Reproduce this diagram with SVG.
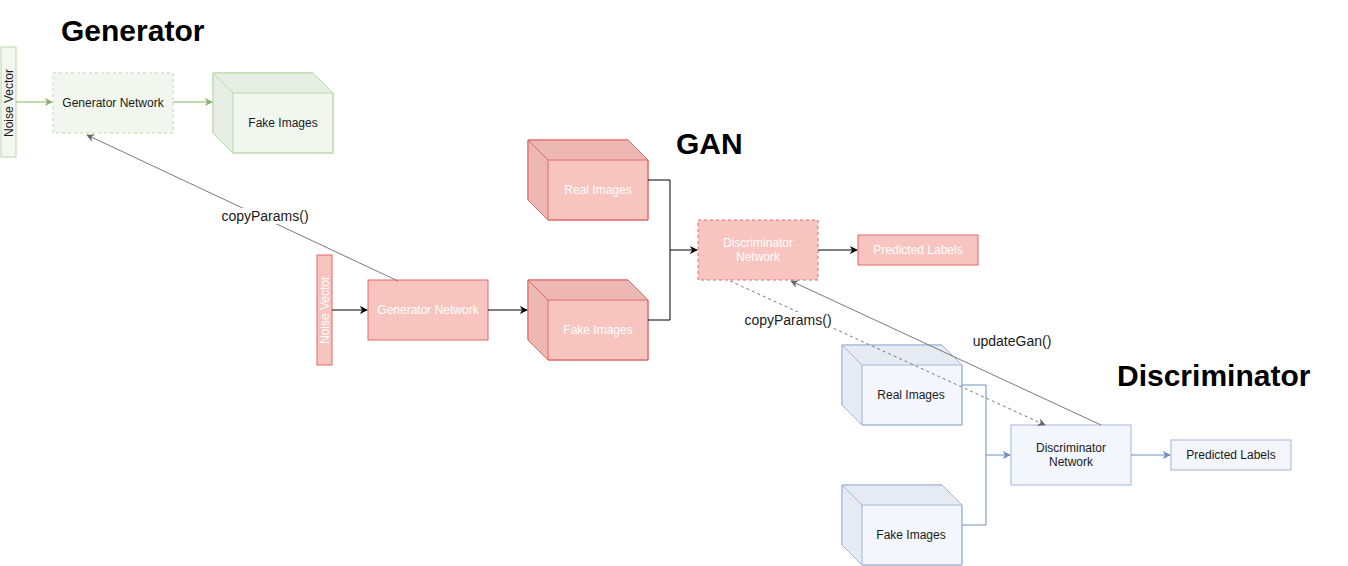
<svg xmlns="http://www.w3.org/2000/svg" width="1348" height="566" viewBox="0 0 1348 566">
<style>
text{font-family:"Liberation Sans",Arial,Helvetica,sans-serif;}
.t{font-size:12px;text-anchor:middle;dominant-baseline:central;fill:#1a1a1a;}
.tw{font-size:12px;text-anchor:middle;dominant-baseline:central;fill:#ffffff;}
.title{font-size:30px;font-weight:bold;fill:#000;}
.lbl{font-size:14px;text-anchor:middle;dominant-baseline:central;fill:#1a1a1a;}
.g{fill:#f1f7ef;stroke:#b9d9a8;stroke-width:1;}
.gd{fill:#e6eee3;stroke:none;}
.r{fill:#f8c4c0;stroke:#e06a66;stroke-width:1;}
.rd{fill:#edb7b3;stroke:none;}
.b{fill:#f3f6fd;stroke:#a3b6d9;stroke-width:1;}
.bd{fill:#e6eaf3;stroke:none;}
.dash{stroke-dasharray:3,3;}
.cg{fill:none;stroke:#82b366;stroke-width:1;}
.ck{fill:none;stroke:#000;stroke-width:1;}
.cb{fill:none;stroke:#6c8ebf;stroke-width:1;}
.cy{fill:none;stroke:#7a7a7a;stroke-width:1;}
</style>
<defs>
<marker id="ag" viewBox="0 0 10 10" refX="9" refY="5" markerWidth="8" markerHeight="8" markerUnits="userSpaceOnUse" orient="auto"><path d="M0,0 L10,5 L0,10 L3,5 Z" fill="#82b366"/></marker>
<marker id="ak" viewBox="0 0 10 10" refX="9" refY="5" markerWidth="8" markerHeight="8" markerUnits="userSpaceOnUse" orient="auto"><path d="M0,0 L10,5 L0,10 L3,5 Z" fill="#000"/></marker>
<marker id="ab" viewBox="0 0 10 10" refX="9" refY="5" markerWidth="8" markerHeight="8" markerUnits="userSpaceOnUse" orient="auto"><path d="M0,0 L10,5 L0,10 L3,5 Z" fill="#6c8ebf"/></marker>
<marker id="ay" viewBox="0 0 10 10" refX="9" refY="5" markerWidth="8" markerHeight="8" markerUnits="userSpaceOnUse" orient="auto"><path d="M0,0 L10,5 L0,10 L3,5 Z" fill="#666666"/></marker>
</defs>
<rect width="1348" height="566" fill="#ffffff"/>

<g id="titles">
<text class="title" x="61" y="41">Generator</text>
<text class="title" x="676" y="154">GAN</text>
<text class="title" x="1117" y="386">Discriminator</text>
</g>

<g id="g-noise">
<rect class="g" x="1" y="47" width="15" height="110"/>
<text class="t" transform="translate(8.5,103) rotate(-90)">Noise Vector</text>
</g>
<g id="g-gen">
<rect class="g dash" x="53" y="73" width="120" height="60"/>
<text class="t" x="113" y="103">Generator Network</text>
</g>
<g id="g-fake">
<path class="g" d="M213,73 H313 L333,93 V153 H233 L213,133 Z"/>
<path class="gd" d="M213.5,73.5 H312.8 L332.3,92.5 H233 V152.5 L213.5,132.8 Z"/>
<path d="M213,73 H313 L333,93 V153 H233 L213,133 Z" fill="none" stroke="#b9d9a8"/>
<path fill="none" stroke="#b9d9a8" d="M213,73 L233,93 H333 M233,93 V153"/>
<text class="t" x="283" y="123">Fake Images</text>
</g>

<g id="r-noise">
<rect class="r" x="317" y="255" width="15" height="110"/>
<text class="tw" transform="translate(324.5,310) rotate(-90)">Noise Vector</text>
</g>
<g id="r-gen">
<rect class="r" x="368" y="280" width="120" height="60"/>
<text class="tw" x="428" y="310">Generator Network</text>
</g>
<g id="r-real">
<path class="r" d="M528,140 H628 L648,160 V220 H548 L528,200 Z"/>
<path class="rd" d="M528.5,140.5 H627.8 L647.3,159.5 H548 V219.5 L528.5,199.8 Z"/>
<path d="M528,140 H628 L648,160 V220 H548 L528,200 Z" fill="none" stroke="#e06a66"/>
<path fill="none" stroke="#e06a66" d="M528,140 L548,160 H648 M548,160 V220"/>
<text class="tw" x="598" y="190">Real Images</text>
</g>
<g id="r-fake">
<path class="r" d="M528,280 H628 L648,300 V360 H548 L528,340 Z"/>
<path class="rd" d="M528.5,280.5 H627.8 L647.3,299.5 H548 V359.5 L528.5,339.8 Z"/>
<path d="M528,280 H628 L648,300 V360 H548 L528,340 Z" fill="none" stroke="#e06a66"/>
<path fill="none" stroke="#e06a66" d="M528,280 L548,300 H648 M548,300 V360"/>
<text class="tw" x="598" y="330">Fake Images</text>
</g>
<g id="r-disc">
<rect class="r dash" x="698" y="220" width="120" height="60"/>
<text class="tw" x="758" y="243">Discriminator</text>
<text class="tw" x="758" y="257">Network</text>
</g>
<g id="r-pred">
<rect class="r" x="858" y="235" width="120" height="30"/>
<text class="tw" x="918" y="250">Predicted Labels</text>
</g>

<g id="b-real">
<path class="b" d="M842,345 H942 L962,365 V425 H862 L842,405 Z"/>
<path class="bd" d="M842.5,345.5 H941.8 L961.3,364.5 H862 V424.5 L842.5,404.8 Z"/>
<path d="M842,345 H942 L962,365 V425 H862 L842,405 Z" fill="none" stroke="#a3b6d9"/>
<path fill="none" stroke="#a3b6d9" d="M842,345 L862,365 H962 M862,365 V425"/>
<text class="t" x="911" y="395">Real Images</text>
</g>
<g id="b-fake">
<path class="b" d="M842,485 H942 L962,505 V565 H862 L842,545 Z"/>
<path class="bd" d="M842.5,485.5 H941.8 L961.3,504.5 H862 V564.5 L842.5,544.8 Z"/>
<path d="M842,485 H942 L962,505 V565 H862 L842,545 Z" fill="none" stroke="#a3b6d9"/>
<path fill="none" stroke="#a3b6d9" d="M842,485 L862,505 H962 M862,505 V565"/>
<text class="t" x="911" y="535">Fake Images</text>
</g>
<g id="b-disc">
<rect class="b" x="1011" y="425" width="120" height="60"/>
<text class="t" x="1071" y="448">Discriminator</text>
<text class="t" x="1071" y="462">Network</text>
</g>
<g id="b-pred">
<rect class="b" x="1171" y="440" width="120" height="30"/>
<text class="t" x="1231" y="455">Predicted Labels</text>
</g>

<g id="connectors">
<line class="cg" x1="16" y1="102" x2="52" y2="102" marker-end="url(#ag)"/>
<line class="cg" x1="173" y1="102" x2="212" y2="102" marker-end="url(#ag)"/>
<line class="ck" x1="332" y1="310" x2="367" y2="310" marker-end="url(#ak)"/>
<line class="ck" x1="488" y1="310" x2="527" y2="310" marker-end="url(#ak)"/>
<polyline class="ck" points="648,180 670,180 670,250 697,250" marker-end="url(#ak)"/>
<polyline class="ck" points="648,320 670,320 670,250"/>
<line class="ck" x1="818" y1="250" x2="857" y2="250" marker-end="url(#ak)"/>
<polyline class="cb" points="962,385 986,385 986,455 1010,455" marker-end="url(#ab)"/>
<polyline class="cb" points="962,525 986,525 986,455"/>
<line class="cb" x1="1131" y1="455" x2="1170" y2="455" marker-end="url(#ab)"/>
<line class="cy" x1="398" y1="281" x2="87" y2="135" marker-end="url(#ay)"/>
<line class="cy dash" x1="730" y1="281" x2="1045" y2="425" marker-end="url(#ay)"/>
<line class="cy" x1="1101" y1="425" x2="791" y2="281" marker-end="url(#ay)"/>
<rect x="221" y="208" width="88" height="16" fill="#ffffff"/>
<text class="lbl" x="265" y="216">copyParams()</text>
<rect x="795" y="312" width="37" height="16" fill="#ffffff"/>
<text class="lbl" x="788" y="320">copyParams()</text>
<text class="lbl" x="1012" y="341">updateGan()</text>
</g>
</svg>
